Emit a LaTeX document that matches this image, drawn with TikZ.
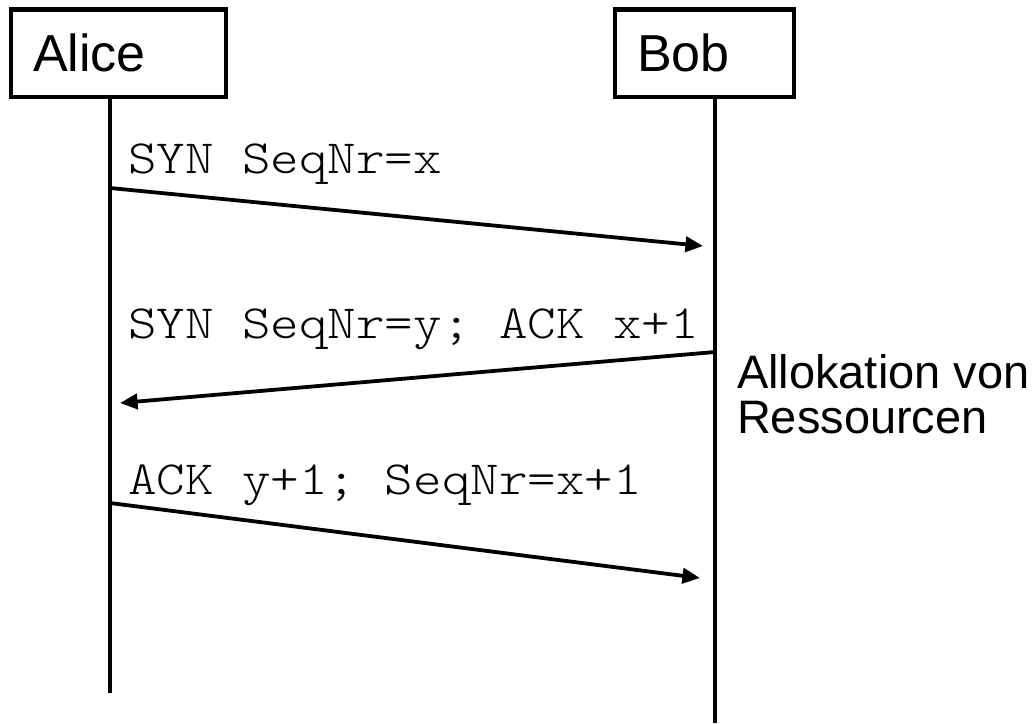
\documentclass[tikz,border=0pt]{standalone}
\usepackage{fontspec}
\usepackage{tikz}
\usetikzlibrary{arrows.meta, positioning, calc}
\newfontfamily\arialfont{Liberation Sans}
\newfontfamily\couriermono[FakeStretch=1.14]{Latin Modern Mono Light}

\begin{document}
\begin{tikzpicture}[
    actor/.style={draw, line width=3.2pt, minimum height=2.18cm, inner xsep=0.55cm, align=left, font=\arialfont\fontsize{37}{40}\selectfont},
    life/.style={line width=3.2pt},
    msg/.style={-{Triangle[length=0.44cm, width=0.38cm]}, line width=2.7pt},
    msgtext/.style={anchor=base west, inner sep=0pt, font=\couriermono\fontsize{33.9}{40}\selectfont},
    note/.style={anchor=base west, inner sep=0pt, align=left, font=\arialfont\fontsize{33.4}{32}\selectfont}
]
    \useasboundingbox (0,0) rectangle (25.875,-18.075);
    \node[actor, text width=4.27cm] at (2.96,-1.33) (alice) {Alice};
    \node[actor, text width=3.37cm] at (17.61,-1.33) (bob) {Bob};
    % lifelines
    \coordinate (aliceEnd) at (2.75,-17.33);
    \coordinate (bobEnd) at (17.875,-18.075);
    \draw[life] (alice.south -| aliceEnd) -- (aliceEnd);
    \draw[life] (bob.south -| bobEnd) -- (bobEnd);
    % messages
    \coordinate (syn1a) at (2.75,-4.7);
    \coordinate (syn1b) at (17.575,-6.15);
    \coordinate (syn2b) at (17.875,-8.8);
    \coordinate (syn2a) at (3.0,-10.075);
    \coordinate (ack1a) at (2.75,-12.575);
    \coordinate (ack1b) at (17.5,-14.45);
    \node[msgtext] at (3.2,-4.33) (syn1) {SYN SeqNr=x};
    \node[msgtext] at (3.2,-8.45) (syn2) {SYN SeqNr=y; ACK x+1};
    \node[msgtext] at (3.2,-12.35) (ack1) {ACK y+1; SeqNr=x+1};
    \draw[msg] (syn1a) -- (syn1b);
    \draw[msg] (syn2b) -- (syn2a);
    \draw[msg] (ack1a) -- (ack1b);
    \node[note] at (18.42,-10.83) (alloc) {Allokation von\\Ressourcen};
\end{tikzpicture}
\end{document}
